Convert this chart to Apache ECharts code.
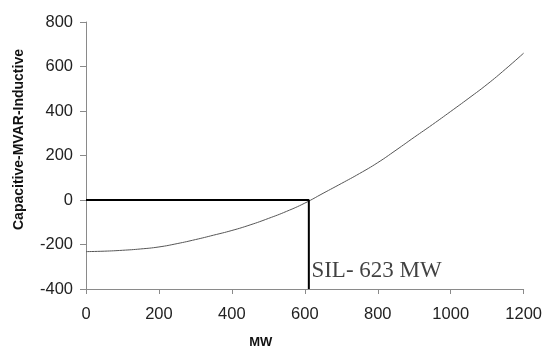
<!DOCTYPE html>
<html><head><meta charset="utf-8">
<script src="https://cdn.jsdelivr.net/npm/echarts@6/dist/echarts.min.js"></script>
<style>html,body{margin:0;padding:0;background:#fff}#c{width:545px;height:354px}</style>
</head><body><div id="c"></div>
<script>
const mw = [0,50,100,150,200,250,300,350,400,450,500,550,600,650,700,750,800,850,900,950,1000,1050,1100,1150,1200];
const mvar = [-232,-230,-226,-220,-211,-196,-178,-158,-137,-112,-83,-51,-14,30,74,119,168,224,282,339,398,458,520,588,660];
const silMW = 611;
const silLabel = 'SIL- 623 MW';

const chart = echarts.init(document.getElementById('c'), null, {renderer:'canvas'});
const axisCol = '#8a8a8a';
chart.setOption({
  animation:false,
  grid:{left:86,right:18,top:22,bottom:64},
  xAxis:{type:'value',min:0,max:1200,interval:200,
    name:'MW',nameLocation:'middle',nameGap:47,
    nameTextStyle:{fontFamily:'Liberation Sans',fontWeight:'bold',fontSize:13,color:'#111',padding:[0,88,0,0]},
    axisLine:{onZero:false,lineStyle:{color:axisCol,width:1}},
    axisTick:{show:true,length:5,lineStyle:{color:axisCol}},
    axisLabel:{margin:17,fontFamily:'Liberation Sans',fontSize:16.5,color:'#222',formatter:v=>String(v)},
    splitLine:{show:false}},
  yAxis:{type:'value',min:-400,max:800,interval:200,
    name:'Capacitive-MVAR-Inductive',nameLocation:'middle',nameGap:60,
    nameTextStyle:{fontFamily:'Liberation Sans',fontWeight:'bold',fontSize:14,color:'#111',padding:[0,0,0,32]},
    axisLine:{show:true,lineStyle:{color:axisCol,width:1}},
    axisTick:{show:true,length:6,lineStyle:{color:axisCol}},
    axisLabel:{margin:13,fontFamily:'Liberation Sans',fontSize:16.5,color:'#222',formatter:v=>String(v)},
    splitLine:{show:false}},
  series:[
    {type:'line',data:mw.map((x,i)=>[x,mvar[i]]),smooth:true,showSymbol:false,
     lineStyle:{color:'#555',width:1}},
    {type:'line',data:[[0,0],[silMW,0],[silMW,-400]],showSymbol:false,
     lineStyle:{color:'#000',width:2}},
    {type:'scatter',data:[[618,-318]],symbolSize:0,
     label:{show:true,position:'right',distance:0,formatter:silLabel,
       fontFamily:'Liberation Serif',fontSize:23,color:'#111'}}
  ]
});
</script></body></html>
